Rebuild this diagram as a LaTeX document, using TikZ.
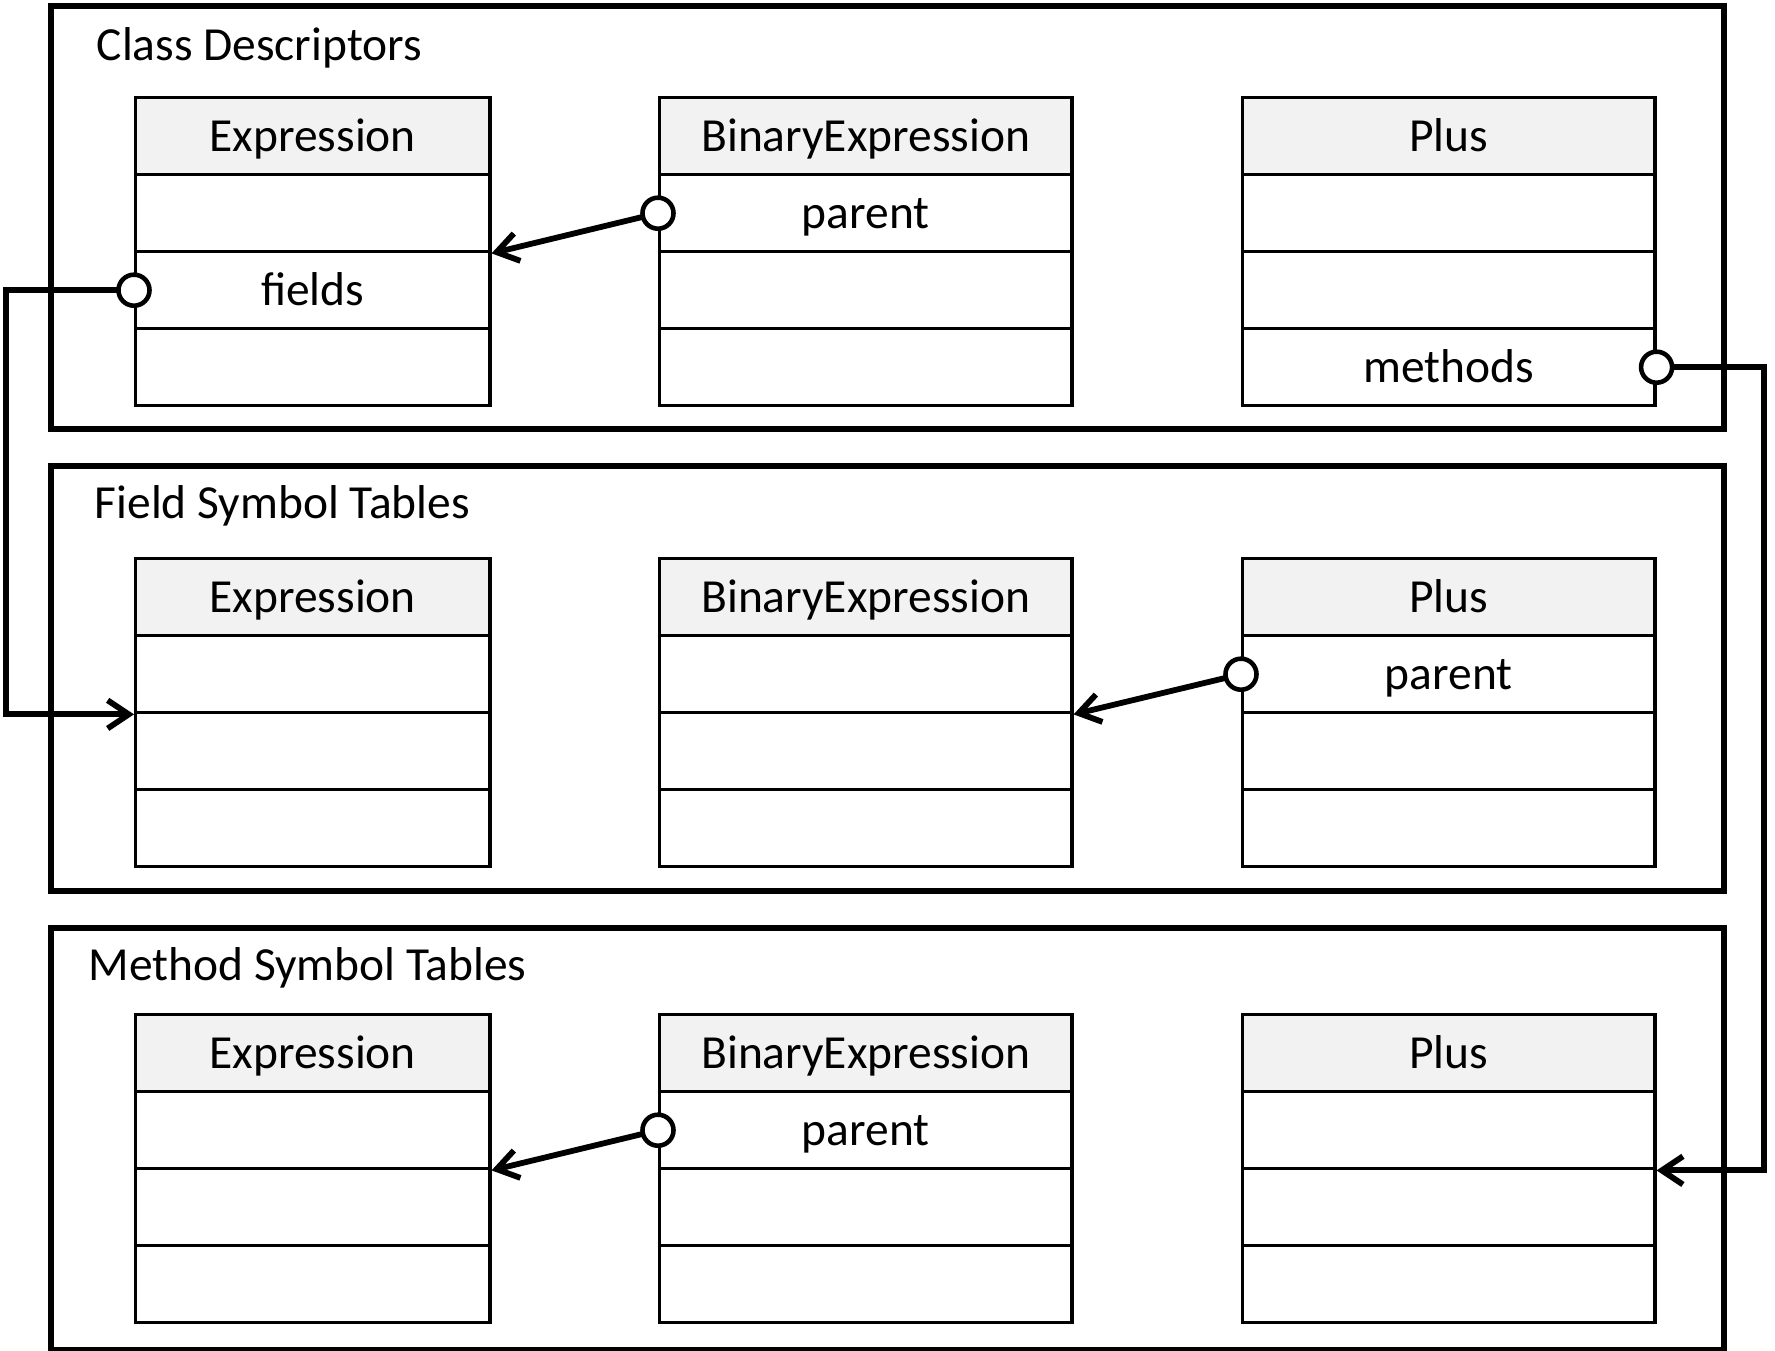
\documentclass[tikz,border=0pt]{standalone}
\usepackage{fontspec}
\setmainfont{Carlito}
\usetikzlibrary{arrows.meta}

\definecolor{hdgray}{HTML}{F2F2F2}

\tikzset{
  frame/.style={line width=1.6pt},
  cell/.style={draw, line width=0.95pt, anchor=north west, minimum height=0.77cm,
    inner sep=0pt, text height=8.5pt, text depth=0pt},
  hdcell/.style={cell, fill=hdgray},
  title/.style={anchor=base west, inner sep=0pt},
  dot/.style={circle, draw, fill=white, line width=1.3pt, minimum size=0.31cm, inner sep=0pt},
  conn/.style={line width=1.65pt, -{Straight Barb[length=6pt,width=8pt]}}
}

\begin{document}
\begin{tikzpicture}[x=0.01cm, y=-0.01cm, font=\fontsize{13.5}{16}\selectfont]
    \useasboundingbox (0,0) rectangle (1775,1351);

    % the three areas
    \draw[frame] (51,6) rectangle (1724,429);
    \draw[frame] (51,466) rectangle (1724,891);
    \draw[frame] (51,928) rectangle (1724,1350);
    \node[title] (cdTitle) at (96,60) {Class Descriptors};
    \node[title] (fsTitle) at (94,518) {Field Symbol Tables};
    \node[title] (msTitle) at (88,980) {Method Symbol Tables};

    % one table per class in every area
    \foreach \pre/\ty in {cd/96, fs/557, ms/1013}
    \foreach \cls/\name/\x/\w in {Expr/Expression/134/3.54cm, Bin/BinaryExpression/658/4.12cm, Plus/Plus/1241/4.12cm} {
      \node[hdcell, minimum width=\w] (\pre\cls-0) at (\x,\ty) {\name};
      \foreach \r in {1,2,3}
      \node[cell, minimum width=\w] (\pre\cls-\r) at (\x,{\ty+77*\r}) {};
    }

    % entries
    \node[text height=8.5pt, text depth=0pt] (cdBinParent) at (cdBin-1) {parent};
    \node[text height=8.5pt, text depth=0pt] (cdExprFields) at (cdExpr-2) {fields};
    \node[text height=8.5pt, text depth=0pt] (cdPlusMethods) at (cdPlus-3) {methods};
    \node[text height=8.5pt, text depth=0pt] (fsPlusParent) at (fsPlus-1) {parent};
    \node[text height=8.5pt, text depth=0pt] (msBinParent) at (msBin-1) {parent};

    \coordinate (lbus) at (6,500);
    \coordinate (rbus) at (1764,800);

    % pointers
    \draw[conn] (cdBin-1.west) -- (cdExpr-1.south east);
    \draw[conn] (fsPlus-1.west) -- (fsBin-1.south east);
    \draw[conn] (msBin-1.west) -- (msExpr-1.south east);
    \draw[conn] (cdExpr-2.west) -| (lbus) |- (fsExpr-1.south west);
    \draw[conn] (cdPlus-3.east) -| (rbus) |- (msPlus-1.south east);

    \node[dot] (cdBinDot) at (cdBin-1.west) {};
    \node[dot] (fsPlusDot) at (fsPlus-1.west) {};
    \node[dot] (msBinDot) at (msBin-1.west) {};
    \node[dot] (cdExprDot) at (cdExpr-2.west) {};
    \node[dot] (cdPlusDot) at (cdPlus-3.east) {};
\end{tikzpicture}
\end{document}
